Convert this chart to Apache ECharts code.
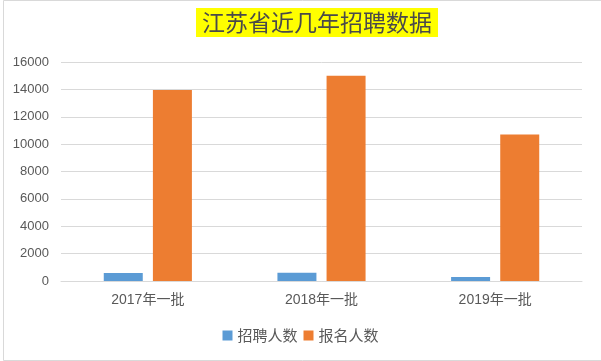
<!DOCTYPE html>
<html><head><meta charset="utf-8">
<script src="https://cdn.jsdelivr.net/npm/echarts@6/dist/echarts.min.js"></script>
<style>html,body{margin:0;padding:0;background:#fff}#c{width:601px;height:361px}</style>
</head><body><div id="c"></div>
<script>
const categories = ['2017年一批', '2018年一批', '2019年一批'];
const hired = [580, 600, 300];
const applicants = [13950, 15000, 10700];
const seriesNames = ['招聘人数', '报名人数'];
const titleText = '江苏省近几年招聘数据';

const chart = echarts.init(document.getElementById('c'));
const cjk = '"Microsoft YaHei","Noto Sans CJK SC",sans-serif';
const num = '"Liberation Sans","Noto Sans CJK SC",sans-serif';
chart.setOption({
  backgroundColor: '#fff',
  animation: false,
  graphic: [{
    type: 'rect', left: 1, top: -2, shape: {width: 598, height: 360},
    style: {fill: 'none', stroke: '#d9d9d9', lineWidth: 1}, silent: true
  }],
  title: {
    text: titleText, left: 196, top: 8,
    backgroundColor: '#ffff00', padding: [3, 6, 3, 6],
    textStyle: {fontSize: 23, fontWeight: 'normal', color: '#4a4a4a', fontFamily: cjk}
  },
  legend: {
    data: seriesNames, bottom: 13, left: 'center', itemWidth: 10, itemHeight: 10,
    itemGap: 6, icon: 'rect',
    textStyle: {fontSize: 15, color: '#595959', fontFamily: cjk}
  },
  grid: {left: 61, right: 19, top: 62, bottom: 80},
  xAxis: {
    type: 'category', data: categories,
    axisLine: {lineStyle: {color: '#d9d9d9'}}, axisTick: {show: false},
    axisLabel: {fontSize: 14, color: '#595959', margin: 12, fontFamily: num}
  },
  yAxis: {
    type: 'value', min: 0, max: 16000, interval: 2000,
    axisLine: {show: false}, axisTick: {show: false},
    splitLine: {lineStyle: {color: '#d9d9d9'}},
    axisLabel: {fontSize: 13, color: '#595959', margin: 12, fontFamily: num,
      formatter: v => String(v)}
  },
  series: [
    {name: seriesNames[0], type: 'bar', data: hired, barWidth: 39, barGap: '26%', itemStyle: {color: '#5b9bd5'}},
    {name: seriesNames[1], type: 'bar', data: applicants, barWidth: 39, itemStyle: {color: '#ed7d31'}}
  ]
});
</script></body></html>
